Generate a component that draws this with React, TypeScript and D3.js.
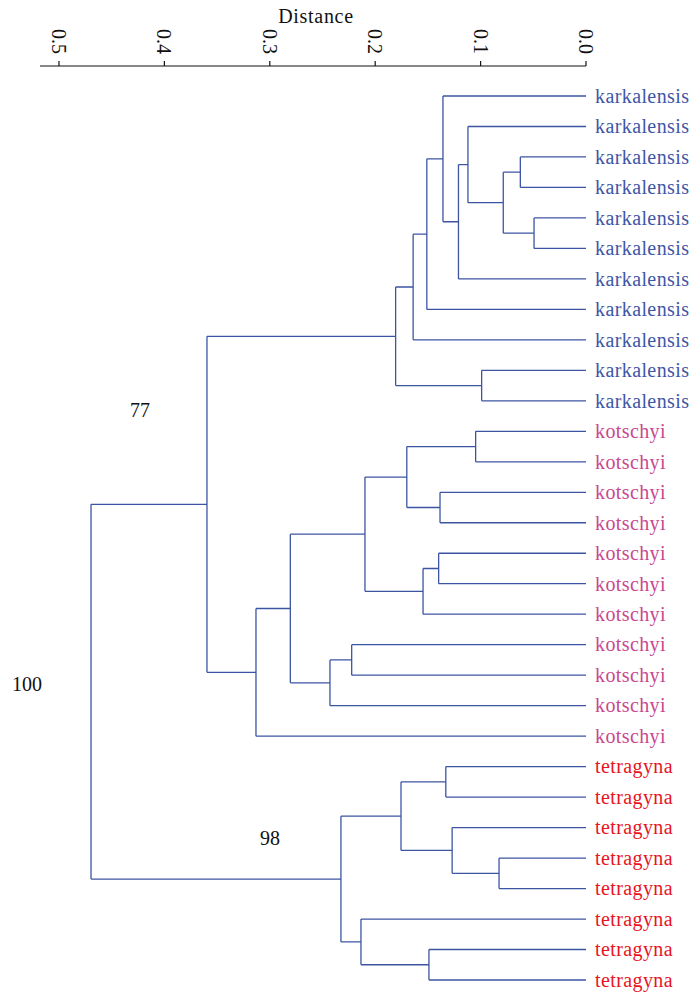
import React from "react";
import * as d3 from "d3";

const leafNames: string[] = [
  ...Array(11).fill("karkalensis"),
  ...Array(11).fill("kotschyi"),
  ...Array(8).fill("tetragyna"),
];
const speciesColors: Record<string, string> = {
  karkalensis: "#3e56a5",
  kotschyi: "#c8488f",
  tetragyna: "#e8141f",
};
// linkage merges: [childA, childB, height]; ids >= 30 are earlier merges (30 + index)
const merges: [number, number, number][] = [
  [2, 3, 0.0623],
  [4, 5, 0.0493],
  [30, 31, 0.0785],
  [1, 32, 0.112],
  [33, 6, 0.121],
  [0, 34, 0.1357],
  [35, 7, 0.151],
  [36, 8, 0.164],
  [9, 10, 0.099],
  [37, 38, 0.1806],
  [11, 12, 0.1047],
  [13, 14, 0.1385],
  [40, 41, 0.17],
  [15, 16, 0.1398],
  [43, 17, 0.1546],
  [42, 44, 0.2097],
  [18, 19, 0.2223],
  [46, 20, 0.2429],
  [45, 47, 0.2805],
  [48, 21, 0.3131],
  [39, 49, 0.3596],
  [22, 23, 0.133],
  [25, 26, 0.0825],
  [24, 52, 0.127],
  [51, 53, 0.1755],
  [28, 29, 0.149],
  [27, 55, 0.2135],
  [54, 56, 0.2325],
  [50, 57, 0.4696],
];
const tickValues = [0.5, 0.4, 0.3, 0.2, 0.1, 0.0];
const bootstrapLabels = ["77", "98", "100"];

const W = 693;
const H = 992;
const FONT = "'Liberation Serif', 'Times New Roman', serif";
const LINE = "#3c55a3";
const bootstrapPos: [number, number][] = [
  [140, 410],
  [270, 838],
  [27, 684],
];

type Node = { id: number; height: number; children?: Node[] };

function buildTree(): Node {
  const n = leafNames.length;
  const nodes: Node[] = leafNames.map((_, i) => ({ id: i, height: 0 }));
  merges.forEach(([a, b, h], k) => {
    nodes.push({ id: n + k, height: h, children: [nodes[a], nodes[b]] });
  });
  return nodes[nodes.length - 1];
}

export default function App() {
  const x = d3.scaleLinear().domain([0.518, 0]).range([40, 586]);
  const y = d3
    .scalePoint<number>()
    .domain(d3.range(leafNames.length))
    .range([96, 980]);

  const root = d3.hierarchy<Node>(buildTree(), (d) => d.children);
  const posY = new Map<number, number>();
  root.eachAfter((nd) => {
    if (!nd.children) posY.set(nd.data.id, y(nd.data.id)!);
    else {
      const ys = nd.children.map((c) => posY.get(c.data.id)!);
      posY.set(nd.data.id, (ys[0] + ys[1]) / 2);
    }
  });

  const segs: string[] = [];
  root.each((nd) => {
    if (nd.children) {
      const px = x(nd.data.height);
      const ys = nd.children.map((c) => posY.get(c.data.id)!);
      segs.push(`M${px},${ys[0]}V${ys[1]}`);
      nd.children.forEach((c) => {
        segs.push(`M${px},${posY.get(c.data.id)}H${x(c.data.height)}`);
      });
    }
  });

  return (
    <svg width={W} height={H} style={{ position: "absolute", left: 0, top: 0, background: "#fff" }}>
      <text x={316} y={16} textAnchor="middle" dominantBaseline="central" fontFamily={FONT} fontSize={20} letterSpacing={0.7} fill="#111">
        Distance
      </text>
      <path d={`M${x.range()[0]},66H${x.range()[1]}`} stroke="#111" strokeWidth={1.2} fill="none" />
      {tickValues.map((t) => (
        <g key={t}>
          <line x1={x(t)} x2={x(t)} y1={61} y2={66} stroke="#111" strokeWidth={1.2} />
          <text
            transform={`translate(${x(t)},29) rotate(90)`}
            textAnchor="start"
            dominantBaseline="central"
            fontFamily={FONT}
            fontSize={20}
            fill="#111"
          >
            {d3.format(".1f")(t)}
          </text>
        </g>
      ))}
      <path d={segs.join("")} stroke={LINE} strokeWidth={1.3} fill="none" />
      {leafNames.map((name, i) => (
        <text
          key={i}
          x={595}
          y={y(i)!}
          dy="0.34em"
          fontFamily={FONT}
          fontSize={20}
          letterSpacing={0.4}
          fill={speciesColors[name]}
        >
          {name}
        </text>
      ))}
      {bootstrapLabels.map((label, i) => (
        <text
          key={label}
          x={bootstrapPos[i][0]}
          y={bootstrapPos[i][1]}
          textAnchor="middle"
          dominantBaseline="central"
          fontFamily={FONT}
          fontSize={20}
          fill="#111"
        >
          {label}
        </text>
      ))}
    </svg>
  );
}
